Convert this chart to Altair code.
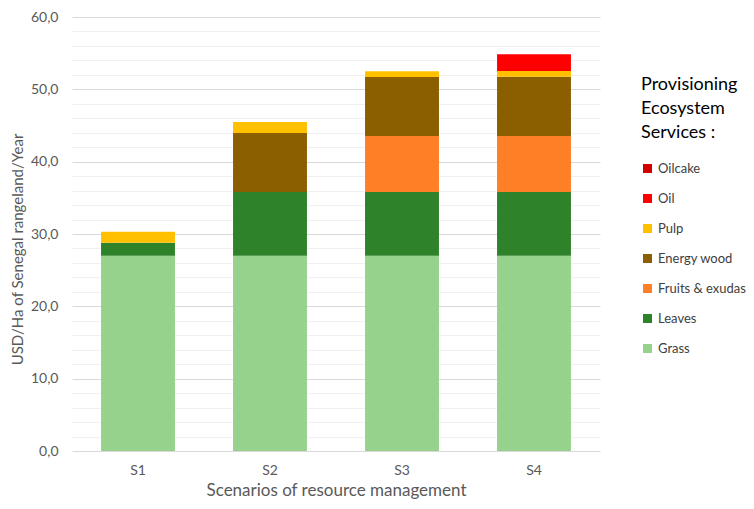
import altair as alt
import pandas as pd

scenarios = ["S1", "S2", "S3", "S4"]
services = ["Grass", "Leaves", "Fruits & exudas", "Energy wood", "Pulp", "Oil", "Oilcake"]
grass = [27.0, 27.0, 27.0, 27.0]
leaves = [1.8, 8.8, 8.8, 8.8]
fruits = [0.0, 0.0, 7.75, 7.75]
energy = [0.0, 8.15, 8.15, 8.2]
pulp = [1.5, 1.55, 0.8, 0.8]
oil = [0.0, 0.0, 0.0, 2.3]
oilcake = [0.0, 0.0, 0.0, 0.0]
colors = ["#97D28C", "#2E8229", "#FF7F27", "#8B5E00", "#FFC000", "#FF0000", "#D40000"]

series = [grass, leaves, fruits, energy, pulp, oil, oilcake]
rows = []
for k, (name, vals) in enumerate(zip(services, series)):
    for s, v in zip(scenarios, vals):
        rows.append({"scenario": s, "service": name, "value": v, "order": k})
df = pd.DataFrame(rows)

FONT = "Lato"
legend_order = services[::-1]
legend_colors = colors[::-1]

chart = alt.Chart(df).mark_bar().encode(
    x=alt.X("scenario:N", sort=scenarios,
            scale=alt.Scale(paddingInner=0.44, paddingOuter=0.22),
            axis=alt.Axis(title="Scenarios of resource management", labelAngle=0,
                          labelFontSize=14, labelColor="#595959", labelPadding=12,
                          titleFontSize=17, titleColor="#595959", titleFontWeight="normal",
                          titlePadding=5, ticks=False, domain=False, grid=False)),
    y=alt.Y("value:Q", stack="zero",
            scale=alt.Scale(domain=[0, 60], nice=False),
            axis=alt.Axis(title="USD/Ha of Senegal rangeland/Year",
                          values=list(range(0, 61, 2)),
                          labelExpr="datum.value % 10 == 0 ? replace(format(datum.value, '.1f'), '.', ',') : ''",
                          labelFontSize=14, labelColor="#595959", labelPadding=14,
                          titleFontSize=15, titleColor="#595959", titleFontWeight="normal",
                          titleY=232, titleX=-55, titleBaseline="middle",
                          ticks=False, domain=False,
                          gridColor={"condition": {"test": "datum.value % 10 == 0", "value": "#D9D9D9"},
                                     "value": "#F0F0F0"},
                          gridWidth=1)),
    color=alt.Color("service:N",
                    scale=alt.Scale(domain=legend_order, range=legend_colors),
                    legend=alt.Legend(title=["Provisioning", "Ecosystem", "Services :"],
                                      orient="none", legendX=569, legendY=59,
                                      titleFontSize=18, titleFontWeight="normal",
                                      titleColor="#000000", titleLineHeight=24,
                                      titlePadding=20,
                                      labelFontSize=13, labelColor="#404040",
                                      symbolType="square", symbolSize=81,
                                      symbolStrokeWidth=0, rowPadding=16,
                                      labelOffset=4)),
    order=alt.Order("order:Q", sort="ascending"),
).properties(
    width=528, height=434,
    padding={"left": 64, "top": 9, "right": 146, "bottom": 50},
    autosize=alt.AutoSizeParams(type="none"),
).configure(font=FONT).configure_view(stroke=None)

chart.save("out.html", embed_options={"renderer": "svg", "actions": False})
